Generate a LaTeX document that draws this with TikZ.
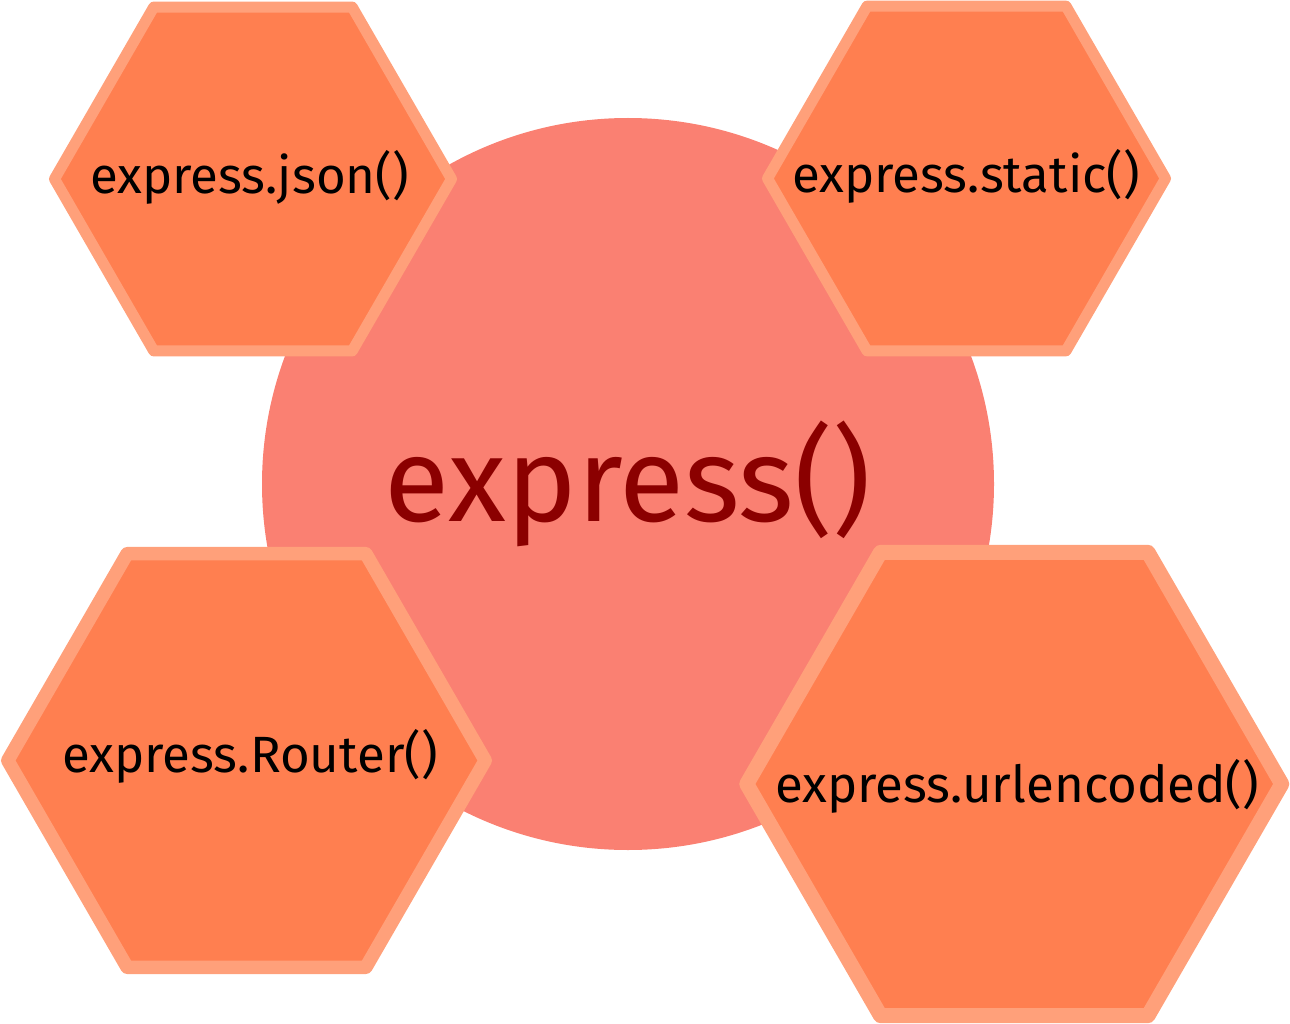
\documentclass[tikz,border=0pt]{standalone}
\usepackage{fontspec}
\setmainfont{Fira Sans}
\definecolor{hexfill}{HTML}{FF7F50}
\definecolor{hexline}{HTML}{FFA07A}
\definecolor{corefill}{HTML}{FA8072}
\definecolor{coretext}{HTML}{8B0000}
\begin{document}
\begin{tikzpicture}[x=1pt,y=-1pt,
  hexbox/.style={fill=hexfill, draw=hexline, line join=round},
  hexlabel/.style={font=\fontsize{51}{61}\selectfont, text=black, inner sep=0pt},
  core/.style={circle, fill=corefill, inner sep=0pt, minimum size=732pt,
    text=coretext, font=\fontsize{119}{133}\selectfont}]
\useasboundingbox (0,0) rectangle (1290,1024);
% central circle
\node[core] (express) at (628,484) {express()};
% hexagon centres
\coordinate (jsonc) at (253,179);
\coordinate (staticc) at (966.5,178.5);
\coordinate (routerc) at (246.5,760.5);
\coordinate (urlc) at (1014.25,784);
% hexagons
\draw[hexbox, line width=11pt, shift={(jsonc)}]
  (0:198.5) -- (60:198.5) -- (120:198.5) -- (180:198.5) -- (240:198.5) -- (300:198.5) -- cycle;
\draw[hexbox, line width=11pt, shift={(staticc)}]
  (0:199) -- (60:199) -- (120:199) -- (180:199) -- (240:199) -- (300:199) -- cycle;
\draw[hexbox, line width=13.5pt, shift={(routerc)}]
  (0:238.75) -- (60:238.75) -- (120:238.75) -- (180:238.75) -- (240:238.75) -- (300:238.75) -- cycle;
\draw[hexbox, line width=15pt, shift={(urlc)}]
  (0:267.5) -- (60:267.5) -- (120:267.5) -- (180:267.5) -- (240:267.5) -- (300:267.5) -- cycle;
% labels
\node[hexlabel] (json) at (249.5,177) {express.json()};
\node[hexlabel] (static) at (966,176) {express.static()};
\node[hexlabel] (router) at (250,756) {express.Router()};
\node[hexlabel] (url) at (1017,786) {express.urlencoded()};
\end{tikzpicture}
\end{document}
